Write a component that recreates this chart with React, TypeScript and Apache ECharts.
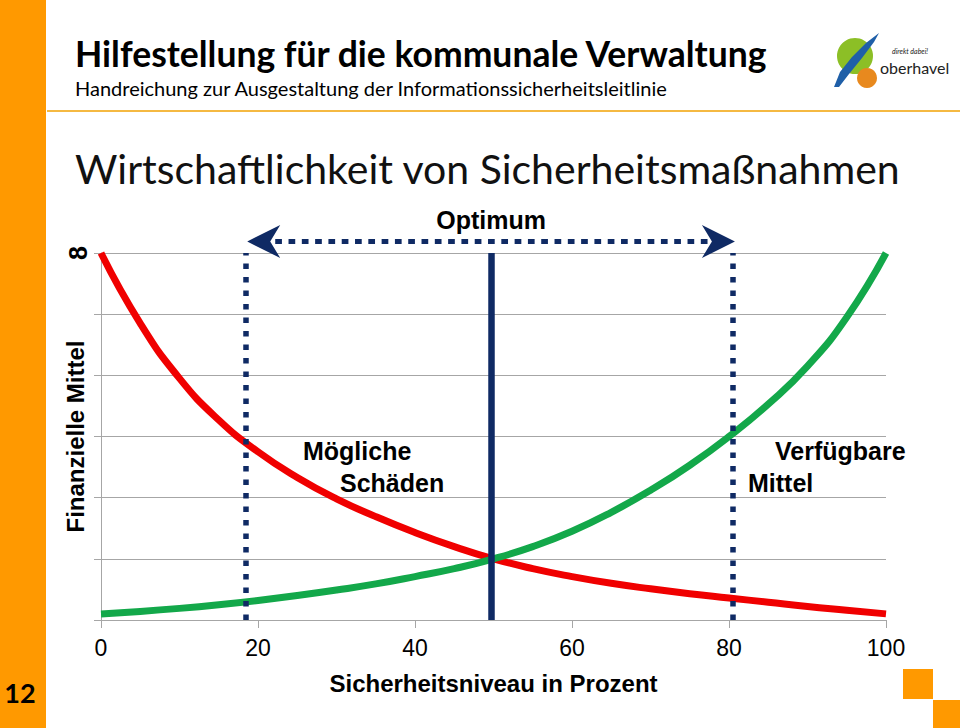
import React, { useEffect, useRef } from "react";
import * as echarts from "echarts";

// Sicherheitsniveau in Prozent (x values)
const xValues = [0, 5, 10, 15, 20, 25, 30, 35, 40, 45, 50, 55, 60, 65, 70, 75, 80, 85, 90, 95, 100];
// "Mögliche Schäden" (red)
const damages = [6.0, 4.85, 3.95, 3.27, 2.75, 2.33, 1.98, 1.69, 1.43, 1.2, 1.0, 0.84, 0.71, 0.6, 0.51, 0.43, 0.36, 0.29, 0.22, 0.16, 0.1];
// "Verfügbare Mittel" (green)
const available = [0.1, 0.14, 0.19, 0.25, 0.32, 0.4, 0.49, 0.59, 0.71, 0.84, 1.0, 1.2, 1.45, 1.76, 2.12, 2.53, 3.0, 3.53, 4.15, 4.95, 6.0];
// Optimum range and point (x)
const optimumRange = [18.5, 80.5];
const optimumPoint = [49.7];
const xTickInterval = 20;
const yMax = 6;

const NAVY = "#0f2a64";
const ORANGE = "#ff9900";
const ARIAL = "'Liberation Sans', Arial, sans-serif";
const CAL = "Lato, 'Open Sans', sans-serif";

export default function App() {
  const ref = useRef<HTMLDivElement>(null);
  useEffect(() => {
    document.body.style.margin = "0";
    const chart = echarts.init(ref.current!, null, { renderer: "svg" });
    const axisGray = "#a6a6a6";
    chart.setOption({
      animation: false,
      backgroundColor: "#ffffff",
      grid: { left: 101, right: 74, top: 253, bottom: 108, containLabel: false },
      xAxis: {
        type: "value",
        min: 0,
        max: 100,
        interval: xTickInterval,
        axisLine: { show: true, lineStyle: { color: axisGray, width: 1 } },
        axisTick: { show: true, length: 8, lineStyle: { color: axisGray } },
        axisLabel: { fontSize: 23, color: "#000", margin: 16, fontFamily: ARIAL },
        splitLine: { show: false },
        name: "Sicherheitsniveau in Prozent",
        nameLocation: "middle",
        nameGap: 51,
        nameTextStyle: { fontSize: 24, fontWeight: "bold", color: "#000", fontFamily: ARIAL },
      },
      yAxis: {
        type: "value",
        min: 0,
        max: yMax,
        interval: 1,
        axisLine: { show: true, lineStyle: { color: axisGray, width: 1 } },
        axisTick: { show: true, length: 7, lineStyle: { color: axisGray } },
        axisLabel: { show: false },
        splitLine: { show: true, lineStyle: { color: axisGray, width: 1 } },
        name: "Finanzielle Mittel",
        nameLocation: "middle",
        nameRotate: 90,
        nameGap: 14,
        nameTextStyle: { fontSize: 24, fontWeight: "bold", color: "#000", fontFamily: ARIAL },
      },
      series: [
        {
          type: "line",
          name: "range",
          data: [],
          z: 1,
          markLine: {
            silent: true,
            symbol: ["none", "none"],
            label: { show: false },
            lineStyle: { color: NAVY, width: 5.5, type: [5.5, 8], cap: "butt" },
            data: optimumRange.map((v) => ({ xAxis: v })),
          },
        },
        {
          type: "line",
          name: "Mögliche Schäden",
          data: xValues.map((x, i) => [x, damages[i]]),
          smooth: true,
          showSymbol: false,
          z: 2,
          lineStyle: { color: "#f00000", width: 7 },
        },
        {
          type: "line",
          name: "Verfügbare Mittel",
          data: xValues.map((x, i) => [x, available[i]]),
          smooth: true,
          showSymbol: false,
          z: 2,
          lineStyle: { color: "#13a84a", width: 7 },
        },
        {
          type: "line",
          name: "optimum",
          data: [],
          z: 3,
          markLine: {
            silent: true,
            symbol: ["none", "none"],
            label: { show: false },
            lineStyle: { color: NAVY, width: 6.5, type: "solid" },
            data: optimumPoint.map((v) => ({ xAxis: v })),
          },
        },
      ],
    });

    const [lx, gy] = chart.convertToPixel({ gridIndex: 0 }, [optimumRange[0], yMax]) as number[];
    const [rx] = chart.convertToPixel({ gridIndex: 0 }, [optimumRange[1], yMax]) as number[];
    const [ax0] = chart.convertToPixel({ gridIndex: 0 }, [0, 0]) as number[];
    const ay = gy - 11.5;
    const tipL = lx + 1;
    const tipR = rx + 2;

    chart.setOption({
      graphic: [
        // left orange bar
        { type: "rect", shape: { x: 0, y: 0, width: 46, height: 728 }, style: { fill: ORANGE } },
        { type: "text", x: 20, y: 692, style: { text: "12", font: `bold 27px ${CAL}`, fill: "#000", align: "center", verticalAlign: "middle" } },
        // header
        { type: "text", x: 75, y: 53, style: { text: "Hilfestellung für die kommunale Verwaltung", font: `bold 35.5px ${CAL}`, fill: "#000", verticalAlign: "middle" } },
        { type: "text", x: 75, y: 88, style: { text: "Handreichung zur Ausgestaltung der Informationssicherheitsleitlinie", font: `20px ${CAL}`, fill: "#000", verticalAlign: "middle" } },
        { type: "line", shape: { x1: 47, y1: 111, x2: 960, y2: 111 }, style: { stroke: "#f5b942", lineWidth: 2 } },
        { type: "text", x: 75, y: 168, style: { text: "Wirtschaftlichkeit von Sicherheitsmaßnahmen", font: `41px ${CAL}`, fill: "#111", verticalAlign: "middle" } },
        // logo
        { type: "circle", shape: { cx: 855, cy: 56, r: 18 }, style: { fill: "#8cbf26" } },
        { type: "circle", shape: { cx: 867, cy: 78, r: 10 }, style: { fill: "#e8891e" } },
        {
          type: "polygon",
          shape: { points: [[834, 87], [840, 72], [852, 57], [866, 43], [879, 33], [874, 42], [862, 58], [849, 74], [839, 87]] },
          style: { fill: "#1f5fa8" },
        },
        { type: "text", x: 880, y: 67, style: { text: "oberhavel", font: `16px ${CAL}`, fill: "#222", verticalAlign: "middle" } },
        { type: "text", x: 892, y: 51, style: { text: "direkt dabei!", font: `italic 7px ${CAL}`, fill: "#222", verticalAlign: "middle" } },
        // bottom-right squares
        { type: "rect", shape: { x: 903, y: 669, width: 30, height: 30 }, style: { fill: ORANGE } },
        { type: "rect", shape: { x: 933, y: 700, width: 27, height: 28 }, style: { fill: ORANGE } },
        // y-axis top mark "8"
        { type: "text", x: ax0 - 23, y: gy, rotation: Math.PI / 2, style: { text: "8", font: `bold 25px ${ARIAL}`, fill: "#000", align: "center", verticalAlign: "middle" } },
        // optimum arrow
        { type: "line", shape: { x1: tipL + 28, y1: ay, x2: tipR - 26, y2: ay }, style: { stroke: NAVY, lineWidth: 5, lineDash: [6.7, 6.6] } },
        { type: "polygon", shape: { points: [[tipL, ay], [tipL + 33, ay - 16.5], [tipL + 23, ay], [tipL + 33, ay + 16.5]] }, style: { fill: NAVY } },
        { type: "polygon", shape: { points: [[tipR, ay], [tipR - 33, ay - 16.5], [tipR - 23, ay], [tipR - 33, ay + 16.5]] }, style: { fill: NAVY } },
        { type: "text", x: (tipL + tipR) / 2, y: ay - 22, style: { text: "Optimum", font: `bold 25px ${ARIAL}`, fill: "#000", align: "center", verticalAlign: "middle" } },
        // curve labels
        { type: "text", x: 303, y: 451, style: { text: "Mögliche", font: `bold 25px ${ARIAL}`, fill: "#000", verticalAlign: "middle" } },
        { type: "text", x: 340, y: 483, style: { text: "Schäden", font: `bold 25px ${ARIAL}`, fill: "#000", verticalAlign: "middle" } },
        { type: "text", x: 775, y: 451, style: { text: "Verfügbare", font: `bold 25px ${ARIAL}`, fill: "#000", verticalAlign: "middle" } },
        { type: "text", x: 748, y: 483, style: { text: "Mittel", font: `bold 25px ${ARIAL}`, fill: "#000", verticalAlign: "middle" } },
      ],
    });

    return () => chart.dispose();
  }, []);
  return <div ref={ref} style={{ width: 960, height: 728 }} />;
}
